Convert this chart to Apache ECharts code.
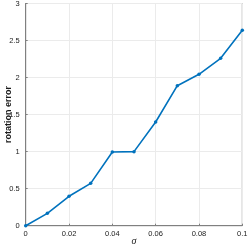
<!DOCTYPE html>
<html><head><meta charset="utf-8">
<script src="https://cdn.jsdelivr.net/npm/echarts@6/dist/echarts.min.js"></script>
<style>html,body{margin:0;padding:0;background:#fff;}#c{width:249px;height:249px;}</style>
</head><body><div id="c"></div>
<script>
const sigma = [0, 0.01, 0.02, 0.03, 0.04, 0.05, 0.06, 0.07, 0.08, 0.09, 0.1];
const rotErr = [0, 0.167, 0.397, 0.572, 0.995, 1.0, 1.40, 1.89, 2.044, 2.26, 2.64];
const xTicks = [0, 0.02, 0.04, 0.06, 0.08, 0.1];
const yTicks = [0, 0.5, 1, 1.5, 2, 2.5, 3];

const chart = echarts.init(document.getElementById('c'), null, {renderer: 'canvas'});
const axisColor = '#808080';
const txt = '#1a1a1a';
chart.setOption({
  animation: false,
  grid: {left: 25.7, right: 6.7, top: 3.5, bottom: 23.3, show: true, borderColor: axisColor, borderWidth: 1,
         containLabel: false, outerBoundsMode: 'none'},
  xAxis: {
    type: 'value', min: 0, max: 0.1, interval: 0.02,
    name: 'σ', nameLocation: 'middle', nameGap: 11, nameMoveOverlap: false,
    nameTextStyle: {fontStyle: 'italic', fontFamily: 'Liberation Serif', fontSize: 10, color: txt},
    axisLine: {show: true, onZero: false, lineStyle: {color: axisColor}},
    axisTick: {show: true, inside: true, length: 2, lineStyle: {color: axisColor}},
    axisLabel: {fontSize: 7.5, color: txt, margin: 4, fontFamily: 'Liberation Sans',
      formatter: v => { const t = xTicks.find(x => Math.abs(x - v) < 1e-9); return t === undefined ? '' : String(t); }},
    splitLine: {show: true, lineStyle: {color: '#ebebeb', width: 1}}
  },
  yAxis: {
    type: 'value', min: 0, max: 3, interval: 0.5,
    name: 'rotation error', nameLocation: 'middle', nameGap: 13, nameMoveOverlap: false,
    nameTextStyle: {fontWeight: 'bold', fontSize: 9, color: txt, fontFamily: 'Liberation Sans'},
    axisLine: {show: true, lineStyle: {color: axisColor}},
    axisTick: {show: true, inside: true, length: 2, lineStyle: {color: axisColor}},
    axisLabel: {fontSize: 7.5, color: txt, margin: 6, fontFamily: 'Liberation Sans',
      formatter: v => { const t = yTicks.find(x => Math.abs(x - v) < 1e-9); return t === undefined ? '' : String(t); }},
    splitLine: {show: true, lineStyle: {color: '#ebebeb', width: 1}}
  },
  series: [{
    type: 'line',
    data: sigma.map((s, i) => [s, rotErr[i]]),
    lineStyle: {color: '#0072BD', width: 1.6},
    itemStyle: {color: '#0072BD'},
    symbol: 'circle', symbolSize: 3.5, showSymbol: true,
    clip: false
  }]
});
</script></body></html>
